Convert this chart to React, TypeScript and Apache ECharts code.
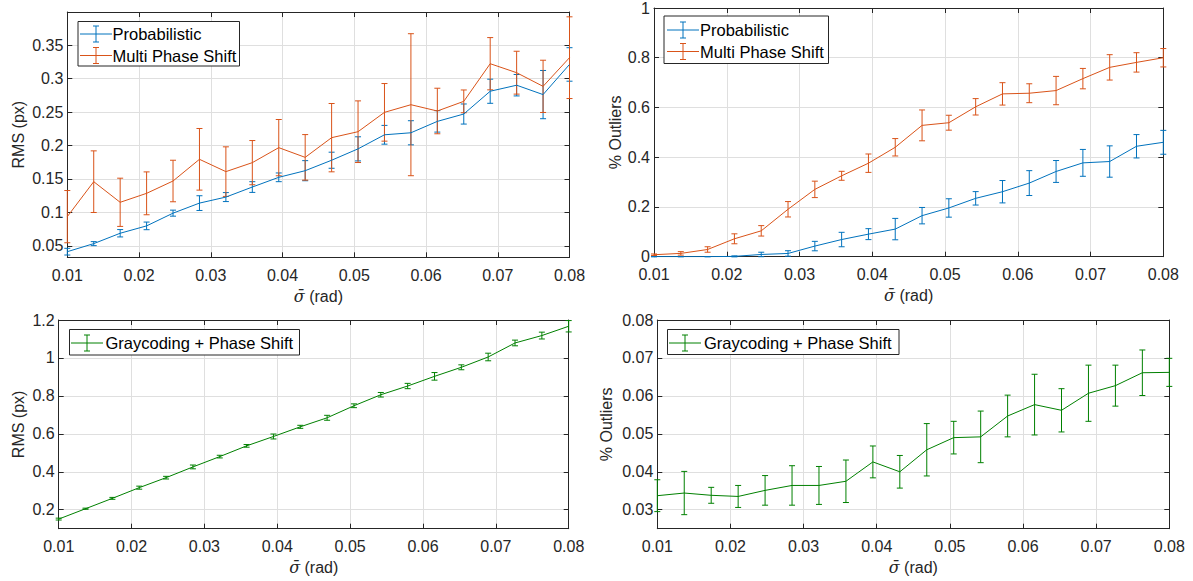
import React, { useEffect, useRef } from "react";
import * as echarts from "echarts";

// sigma-bar values (rad)
const sigma = [0.01, 0.013684, 0.017368, 0.021053, 0.024737, 0.028421, 0.032105, 0.035789, 0.039474, 0.043158,
  0.046842, 0.050526, 0.054211, 0.057895, 0.061579, 0.065263, 0.068947, 0.072632, 0.076316, 0.08];

// Top-left: RMS (px)
const probRms = [0.0415, 0.0535, 0.069, 0.080, 0.099, 0.114, 0.123, 0.138, 0.1525, 0.1624, 0.178, 0.195, 0.216, 0.219, 0.236, 0.247, 0.281, 0.290, 0.276, 0.321];
const probRmsErr = [0.005, 0.003, 0.0055, 0.0057, 0.0045, 0.011, 0.0067, 0.008, 0.0065, 0.015, 0.012, 0.018, 0.014, 0.018, 0.016, 0.015, 0.018, 0.016, 0.036, 0.025];
const mpsRms = [0.0938, 0.146, 0.1152, 0.1286, 0.147, 0.1794, 0.161, 0.1744, 0.1968, 0.1823, 0.2117, 0.2206, 0.2495, 0.2609, 0.2515, 0.2659, 0.3221, 0.3087, 0.2883, 0.3311];
const mpsRmsErr = [0.039, 0.046, 0.036, 0.032, 0.031, 0.046, 0.037, 0.033, 0.042, 0.034, 0.051, 0.046, 0.043, 0.106, 0.034, 0.017, 0.039, 0.032, 0.039, 0.061];

// Top-right: % outliers
const probOut = [0, 0, 0, 0.0013, 0.009, 0.013, 0.0427, 0.069, 0.0907, 0.111, 0.165, 0.196, 0.2347, 0.2613, 0.296, 0.3427, 0.3773, 0.3827, 0.444, 0.46];
const probOutErr = [0, 0, 0, 0.002, 0.009, 0.011, 0.019, 0.029, 0.022, 0.043, 0.033, 0.037, 0.027, 0.045, 0.05, 0.044, 0.054, 0.063, 0.047, 0.048];
const mpsOut = [0.008, 0.0133, 0.029, 0.072, 0.104, 0.1907, 0.2707, 0.3253, 0.376, 0.44, 0.528, 0.5387, 0.6027, 0.6547, 0.6573, 0.668, 0.716, 0.7613, 0.7813, 0.80];
const mpsOutErr = [0.003, 0.007, 0.011, 0.02, 0.021, 0.031, 0.033, 0.018, 0.037, 0.035, 0.062, 0.03, 0.033, 0.045, 0.038, 0.057, 0.041, 0.051, 0.039, 0.037];

// Bottom-left: RMS (px)
const grayRms = [0.1507, 0.2053, 0.26, 0.3163, 0.369, 0.4256, 0.48, 0.5366, 0.586, 0.637, 0.6846, 0.748, 0.806, 0.852, 0.903, 0.9507, 1.005, 1.079, 1.118, 1.167];
const grayRmsErr = [0.005, 0.003, 0.005, 0.008, 0.007, 0.01, 0.007, 0.007, 0.013, 0.008, 0.013, 0.01, 0.012, 0.014, 0.02, 0.013, 0.02, 0.015, 0.018, 0.03];

// Bottom-right: % outliers
const grayOut = [0.0337, 0.0344, 0.0338, 0.0335, 0.0351, 0.0364, 0.0364, 0.0375, 0.0426, 0.04, 0.0458, 0.049, 0.0492, 0.0547, 0.0577, 0.0562, 0.0607, 0.0627, 0.0661, 0.0662];
const grayOutErr = [0.0042, 0.0057, 0.0021, 0.0029, 0.0039, 0.0052, 0.005, 0.0056, 0.0042, 0.0043, 0.0069, 0.0043, 0.0068, 0.0055, 0.008, 0.0057, 0.0074, 0.0054, 0.006, 0.0037];

// Tick labels
const yTicksTL = [0.05, 0.1, 0.15, 0.2, 0.25, 0.3, 0.35];
const yTicksTR = [0, 0.2, 0.4, 0.6, 0.8, 1];
const yTicksBL = [0.2, 0.4, 0.6, 0.8, 1, 1.2];
const yTicksBR = [0.03, 0.04, 0.05, 0.06, 0.07, 0.08];

const BLUE = "#0072BD";
const ORANGE = "#D95319";
const GREEN = "#008000";
const AX = "#262626";
const GRIDC = "#dfdfdf";
const FONT = "'Liberation Sans', Arial, Helvetica, sans-serif";
const FS = 16;
const LFS = 16.5;

const fmt = (v: number) => String(parseFloat(Number(v).toFixed(4)));

type Panel = {
  grid: { left: number; top: number; width: number; height: number };
  ymin: number; ymax: number; yTicks: number[]; yName: string; yNameGap: number;
};

const panels: Panel[] = [
  { grid: { left: 67.3, top: 12, width: 502.2, height: 245.3 }, ymin: 0.0331, ymax: 0.3993, yTicks: yTicksTL, yName: "RMS (px)", yNameGap: 41 },
  { grid: { left: 654, top: 6.7, width: 509.3, height: 250 }, ymin: 0, ymax: 1, yTicks: yTicksTR, yName: "% Outliers", yNameGap: 23 },
  { grid: { left: 58.7, top: 320, width: 510, height: 208.7 }, ymin: 0.1, ymax: 1.2, yTicks: yTicksBL, yName: "RMS (px)", yNameGap: 32 },
  { grid: { left: 657.3, top: 320, width: 512, height: 208.7 }, ymin: 0.025, ymax: 0.08, yTicks: yTicksBR, yName: "% Outliers", yNameGap: 43 },
];

function lineSeries(g: number, name: string, ys: number[], color: string) {
  return {
    type: "line", name, xAxisIndex: 2 * g, yAxisIndex: 2 * g,
    data: sigma.map((x, i) => [x, ys[i]]),
    showSymbol: false, symbol: "none",
    lineStyle: { color, width: 1 }, itemStyle: { color },
    z: 4, silent: true,
  };
}

function errSeries(g: number, name: string, ys: number[], es: number[], color: string) {
  return {
    type: "custom", name: name + " err", xAxisIndex: 2 * g, yAxisIndex: 2 * g,
    data: sigma.map((x, i) => [x, ys[i] - es[i], ys[i] + es[i]]),
    encode: { x: 0, y: [1, 2] },
    silent: true, z: 4,
    renderItem: (params: any, api: any) => {
      const x = api.value(0);
      const lo = api.coord([x, api.value(1)]);
      const hi = api.coord([x, api.value(2)]);
      const cs = params.coordSys;
      const yb = cs.y + cs.height;
      const clamp = (v: number) => Math.max(cs.y, Math.min(yb, v));
      const px = lo[0];
      const style = { stroke: color, lineWidth: 1, fill: "none" };
      const children: any[] = [
        { type: "line", shape: { x1: px, y1: clamp(lo[1]), x2: px, y2: clamp(hi[1]) }, style },
      ];
      const hw = 3;
      if (lo[1] <= yb + 0.5) children.push({ type: "line", shape: { x1: px - hw, y1: lo[1], x2: px + hw, y2: lo[1] }, style });
      if (hi[1] >= cs.y - 0.5) children.push({ type: "line", shape: { x1: px - hw, y1: hi[1], x2: px + hw, y2: hi[1] }, style });
      return { type: "group", children };
    },
  };
}

function legend(box: { x: number; y: number; w: number; h: number }, items: { name: string; color: string; y: number }[], iconX: number, textX: number) {
  const els: any[] = [
    { type: "rect", shape: { x: box.x, y: box.y, width: box.w, height: box.h }, style: { fill: "#fff", stroke: AX, lineWidth: 1 }, z: 100 },
  ];
  items.forEach((it) => {
    const st = { stroke: it.color, lineWidth: 1 };
    const cx = iconX + 16;
    els.push({ type: "line", shape: { x1: iconX, y1: it.y, x2: iconX + 32, y2: it.y }, style: st, z: 101 });
    els.push({ type: "line", shape: { x1: cx, y1: it.y - 8, x2: cx, y2: it.y + 8 }, style: st, z: 101 });
    els.push({ type: "line", shape: { x1: cx - 3, y1: it.y - 8, x2: cx + 3, y2: it.y - 8 }, style: st, z: 101 });
    els.push({ type: "line", shape: { x1: cx - 3, y1: it.y + 8, x2: cx + 3, y2: it.y + 8 }, style: st, z: 101 });
    els.push({
      type: "text", x: textX, y: it.y, z: 101,
      style: { text: it.name, fill: "#000", fontSize: LFS, fontFamily: FONT, verticalAlign: "middle", align: "left" },
    });
  });
  return els;
}

export default function App() {
  const ref = useRef<HTMLDivElement>(null);
  useEffect(() => {
    if (!ref.current) return;
    const chart = echarts.init(ref.current, undefined, { renderer: "svg" });

    const grids: any[] = [];
    const xAxes: any[] = [];
    const yAxes: any[] = [];
    panels.forEach((p, g) => {
      grids.push({ ...p.grid, containLabel: false, show: false });
      const common = {
        type: "value", gridIndex: g, min: 0.01, max: 0.08, interval: 0.01,
        axisLine: { show: true, onZero: false, lineStyle: { color: AX, width: 1 } },
        axisTick: { show: true, inside: true, length: 5, lineStyle: { color: AX } },
      };
      xAxes.push({
        ...common, position: "bottom",
        name: "{s|\u03C3\u0304} (rad)", nameLocation: "middle", nameGap: 31,
        nameTextStyle: {
          color: AX, fontSize: FS, fontFamily: FONT,
          rich: { s: { fontStyle: "italic", fontSize: FS, fontFamily: "'DejaVu Serif', serif", color: AX } },
        },
        axisLabel: { show: true, color: AX, fontSize: FS, fontFamily: FONT, margin: 10, formatter: (v: number) => v.toFixed(2) },
        splitLine: { show: true, lineStyle: { color: GRIDC, width: 1 } },
      });
      xAxes.push({ ...common, position: "top", axisLabel: { show: false }, splitLine: { show: false } });
      const ycommon = {
        type: "value", gridIndex: g, min: p.ymin, max: p.ymax,
        axisLine: { show: true, onZero: false, lineStyle: { color: AX, width: 1 } },
        axisTick: { show: true, inside: true, length: 5, lineStyle: { color: AX }, customValues: p.yTicks },
      };
      yAxes.push({
        ...ycommon, position: "left",
        name: p.yName, nameLocation: "middle", nameGap: p.yNameGap, nameRotate: 90,
        nameTextStyle: { color: AX, fontSize: FS, fontFamily: FONT },
        axisLabel: { show: true, color: AX, fontSize: FS, fontFamily: FONT, margin: 4, formatter: fmt, customValues: p.yTicks },
        splitLine: { show: true, lineStyle: { color: GRIDC, width: 1 } },
      });
      yAxes.push({ ...ycommon, position: "right", axisLabel: { show: false, customValues: p.yTicks }, splitLine: { show: false } });
    });

    const series: any[] = [
      lineSeries(0, "Probabilistic", probRms, BLUE),
      errSeries(0, "Probabilistic", probRms, probRmsErr, BLUE),
      lineSeries(0, "Multi Phase Shift", mpsRms, ORANGE),
      errSeries(0, "Multi Phase Shift", mpsRms, mpsRmsErr, ORANGE),
      lineSeries(1, "Probabilistic", probOut, BLUE),
      errSeries(1, "Probabilistic", probOut, probOutErr, BLUE),
      lineSeries(1, "Multi Phase Shift", mpsOut, ORANGE),
      errSeries(1, "Multi Phase Shift", mpsOut, mpsOutErr, ORANGE),
      lineSeries(2, "Graycoding + Phase Shift", grayRms, GREEN),
      errSeries(2, "Graycoding + Phase Shift", grayRms, grayRmsErr, GREEN),
      lineSeries(3, "Graycoding + Phase Shift", grayOut, GREEN),
      errSeries(3, "Graycoding + Phase Shift", grayOut, grayOutErr, GREEN),
    ];

    const graphic = [
      ...legend({ x: 78, y: 21.5, w: 161.5, h: 44.5 }, [
        { name: "Probabilistic", color: BLUE, y: 34 },
        { name: "Multi Phase Shift", color: ORANGE, y: 55.5 },
      ], 80, 112.5),
      ...legend({ x: 664, y: 16, w: 164.5, h: 47.5 }, [
        { name: "Probabilistic", color: BLUE, y: 30 },
        { name: "Multi Phase Shift", color: ORANGE, y: 51.5 },
      ], 667, 700),
      ...legend({ x: 69.5, y: 329.5, w: 230, h: 25.5 }, [
        { name: "Graycoding + Phase Shift", color: GREEN, y: 343 },
      ], 71, 105.5),
      ...legend({ x: 667.5, y: 329.5, w: 231.5, h: 25 }, [
        { name: "Graycoding + Phase Shift", color: GREEN, y: 343 },
      ], 669, 704),
    ];

    chart.setOption({
      animation: false,
      backgroundColor: "#ffffff",
      textStyle: { fontFamily: FONT },
      grid: grids,
      xAxis: xAxes,
      yAxis: yAxes,
      series,
      graphic,
    });
    return () => chart.dispose();
  }, []);

  return <div ref={ref} style={{ position: "fixed", left: 0, top: 0, width: 1193, height: 581 }} />;
}
